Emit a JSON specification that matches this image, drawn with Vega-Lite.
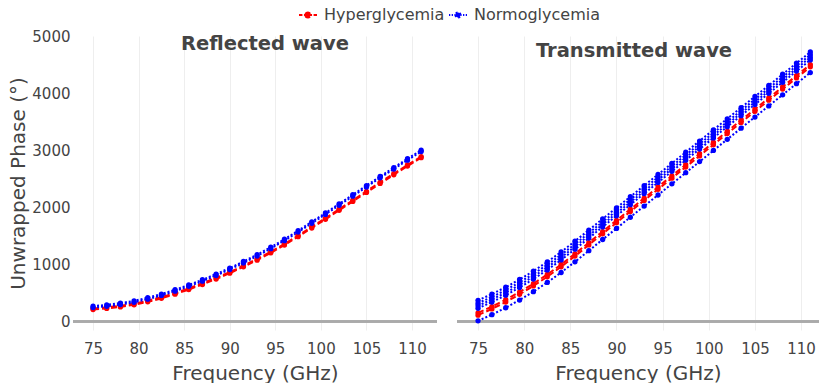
{
  "$schema": "https://vega.github.io/schema/vega-lite/v6.json",
  "background": "white",
  "padding": {"left": 8, "top": 5, "right": 0, "bottom": 0},
  "autosize": {"type": "pad"},
  "spacing": 20,
  "bounds": "flush",
  "config": {
    "font": "DejaVu Sans",
    "view": {"stroke": null},
    "axis": {
      "labelColor": "#444", "titleColor": "#444", "labelFontSize": 15, "titleFontSize": 20,
      "titleFontWeight": "normal", "gridColor": "#eeeeee", "gridWidth": 1, "domain": false, "ticks": false
    },
    "axisX": {"labelPadding": 11, "titlePadding": 7},
    "axisY": {"labelPadding": 3, "titlePadding": 3, "format": "d"}
  },
  "data": {"values": [
    {"w":"R","g":"Hyperglycemia","s":"rh1","f":75,"y":228},{"w":"R","g":"Hyperglycemia","s":"rh1","f":76.5,"y":247},{"w":"R","g":"Hyperglycemia","s":"rh1","f":78,"y":274},{"w":"R","g":"Hyperglycemia","s":"rh1","f":79.5,"y":311},{"w":"R","g":"Hyperglycemia","s":"rh1","f":81,"y":363},{"w":"R","g":"Hyperglycemia","s":"rh1","f":82.5,"y":425},{"w":"R","g":"Hyperglycemia","s":"rh1","f":84,"y":497},{"w":"R","g":"Hyperglycemia","s":"rh1","f":85.5,"y":579},{"w":"R","g":"Hyperglycemia","s":"rh1","f":87,"y":666},{"w":"R","g":"Hyperglycemia","s":"rh1","f":88.5,"y":763},{"w":"R","g":"Hyperglycemia","s":"rh1","f":90,"y":865},{"w":"R","g":"Hyperglycemia","s":"rh1","f":91.5,"y":977},{"w":"R","g":"Hyperglycemia","s":"rh1","f":93,"y":1094},{"w":"R","g":"Hyperglycemia","s":"rh1","f":94.5,"y":1221},{"w":"R","g":"Hyperglycemia","s":"rh1","f":96,"y":1358},{"w":"R","g":"Hyperglycemia","s":"rh1","f":97.5,"y":1505},{"w":"R","g":"Hyperglycemia","s":"rh1","f":99,"y":1657},{"w":"R","g":"Hyperglycemia","s":"rh1","f":100.5,"y":1809},{"w":"R","g":"Hyperglycemia","s":"rh1","f":102,"y":1966},{"w":"R","g":"Hyperglycemia","s":"rh1","f":103.5,"y":2123},{"w":"R","g":"Hyperglycemia","s":"rh1","f":105,"y":2280},{"w":"R","g":"Hyperglycemia","s":"rh1","f":106.5,"y":2437},{"w":"R","g":"Hyperglycemia","s":"rh1","f":108,"y":2589},{"w":"R","g":"Hyperglycemia","s":"rh1","f":109.5,"y":2741},{"w":"R","g":"Hyperglycemia","s":"rh1","f":111,"y":2888},
    {"w":"R","g":"Hyperglycemia","s":"rh2","f":75,"y":208},{"w":"R","g":"Hyperglycemia","s":"rh2","f":76.5,"y":227},{"w":"R","g":"Hyperglycemia","s":"rh2","f":78,"y":254},{"w":"R","g":"Hyperglycemia","s":"rh2","f":79.5,"y":291},{"w":"R","g":"Hyperglycemia","s":"rh2","f":81,"y":343},{"w":"R","g":"Hyperglycemia","s":"rh2","f":82.5,"y":405},{"w":"R","g":"Hyperglycemia","s":"rh2","f":84,"y":477},{"w":"R","g":"Hyperglycemia","s":"rh2","f":85.5,"y":559},{"w":"R","g":"Hyperglycemia","s":"rh2","f":87,"y":646},{"w":"R","g":"Hyperglycemia","s":"rh2","f":88.5,"y":743},{"w":"R","g":"Hyperglycemia","s":"rh2","f":90,"y":845},{"w":"R","g":"Hyperglycemia","s":"rh2","f":91.5,"y":957},{"w":"R","g":"Hyperglycemia","s":"rh2","f":93,"y":1074},{"w":"R","g":"Hyperglycemia","s":"rh2","f":94.5,"y":1201},{"w":"R","g":"Hyperglycemia","s":"rh2","f":96,"y":1338},{"w":"R","g":"Hyperglycemia","s":"rh2","f":97.5,"y":1485},{"w":"R","g":"Hyperglycemia","s":"rh2","f":99,"y":1637},{"w":"R","g":"Hyperglycemia","s":"rh2","f":100.5,"y":1789},{"w":"R","g":"Hyperglycemia","s":"rh2","f":102,"y":1946},{"w":"R","g":"Hyperglycemia","s":"rh2","f":103.5,"y":2103},{"w":"R","g":"Hyperglycemia","s":"rh2","f":105,"y":2260},{"w":"R","g":"Hyperglycemia","s":"rh2","f":106.5,"y":2417},{"w":"R","g":"Hyperglycemia","s":"rh2","f":108,"y":2569},{"w":"R","g":"Hyperglycemia","s":"rh2","f":109.5,"y":2721},{"w":"R","g":"Hyperglycemia","s":"rh2","f":111,"y":2868},
    {"w":"R","g":"Normoglycemia","s":"rn1","f":75,"y":268},{"w":"R","g":"Normoglycemia","s":"rn1","f":76.5,"y":290},{"w":"R","g":"Normoglycemia","s":"rn1","f":78,"y":320},{"w":"R","g":"Normoglycemia","s":"rn1","f":79.5,"y":360},{"w":"R","g":"Normoglycemia","s":"rn1","f":81,"y":415},{"w":"R","g":"Normoglycemia","s":"rn1","f":82.5,"y":480},{"w":"R","g":"Normoglycemia","s":"rn1","f":84,"y":555},{"w":"R","g":"Normoglycemia","s":"rn1","f":85.5,"y":640},{"w":"R","g":"Normoglycemia","s":"rn1","f":87,"y":730},{"w":"R","g":"Normoglycemia","s":"rn1","f":88.5,"y":830},{"w":"R","g":"Normoglycemia","s":"rn1","f":90,"y":935},{"w":"R","g":"Normoglycemia","s":"rn1","f":91.5,"y":1050},{"w":"R","g":"Normoglycemia","s":"rn1","f":93,"y":1170},{"w":"R","g":"Normoglycemia","s":"rn1","f":94.5,"y":1300},{"w":"R","g":"Normoglycemia","s":"rn1","f":96,"y":1440},{"w":"R","g":"Normoglycemia","s":"rn1","f":97.5,"y":1590},{"w":"R","g":"Normoglycemia","s":"rn1","f":99,"y":1745},{"w":"R","g":"Normoglycemia","s":"rn1","f":100.5,"y":1900},{"w":"R","g":"Normoglycemia","s":"rn1","f":102,"y":2060},{"w":"R","g":"Normoglycemia","s":"rn1","f":103.5,"y":2220},{"w":"R","g":"Normoglycemia","s":"rn1","f":105,"y":2380},{"w":"R","g":"Normoglycemia","s":"rn1","f":106.5,"y":2540},{"w":"R","g":"Normoglycemia","s":"rn1","f":108,"y":2695},{"w":"R","g":"Normoglycemia","s":"rn1","f":109.5,"y":2850},{"w":"R","g":"Normoglycemia","s":"rn1","f":111,"y":3000},
    {"w":"R","g":"Normoglycemia","s":"rn2","f":75,"y":243},{"w":"R","g":"Normoglycemia","s":"rn2","f":76.5,"y":265},{"w":"R","g":"Normoglycemia","s":"rn2","f":78,"y":295},{"w":"R","g":"Normoglycemia","s":"rn2","f":79.5,"y":335},{"w":"R","g":"Normoglycemia","s":"rn2","f":81,"y":390},{"w":"R","g":"Normoglycemia","s":"rn2","f":82.5,"y":455},{"w":"R","g":"Normoglycemia","s":"rn2","f":84,"y":530},{"w":"R","g":"Normoglycemia","s":"rn2","f":85.5,"y":615},{"w":"R","g":"Normoglycemia","s":"rn2","f":87,"y":705},{"w":"R","g":"Normoglycemia","s":"rn2","f":88.5,"y":805},{"w":"R","g":"Normoglycemia","s":"rn2","f":90,"y":910},{"w":"R","g":"Normoglycemia","s":"rn2","f":91.5,"y":1025},{"w":"R","g":"Normoglycemia","s":"rn2","f":93,"y":1145},{"w":"R","g":"Normoglycemia","s":"rn2","f":94.5,"y":1275},{"w":"R","g":"Normoglycemia","s":"rn2","f":96,"y":1415},{"w":"R","g":"Normoglycemia","s":"rn2","f":97.5,"y":1565},{"w":"R","g":"Normoglycemia","s":"rn2","f":99,"y":1720},{"w":"R","g":"Normoglycemia","s":"rn2","f":100.5,"y":1875},{"w":"R","g":"Normoglycemia","s":"rn2","f":102,"y":2035},{"w":"R","g":"Normoglycemia","s":"rn2","f":103.5,"y":2195},{"w":"R","g":"Normoglycemia","s":"rn2","f":105,"y":2355},{"w":"R","g":"Normoglycemia","s":"rn2","f":106.5,"y":2515},{"w":"R","g":"Normoglycemia","s":"rn2","f":108,"y":2670},{"w":"R","g":"Normoglycemia","s":"rn2","f":109.5,"y":2825},{"w":"R","g":"Normoglycemia","s":"rn2","f":111,"y":2975},
    {"w":"T","g":"Hyperglycemia","s":"th1","f":75,"y":150},{"w":"T","g":"Hyperglycemia","s":"th1","f":76.5,"y":259},{"w":"T","g":"Hyperglycemia","s":"th1","f":78,"y":380},{"w":"T","g":"Hyperglycemia","s":"th1","f":79.5,"y":515},{"w":"T","g":"Hyperglycemia","s":"th1","f":81,"y":662},{"w":"T","g":"Hyperglycemia","s":"th1","f":82.5,"y":823},{"w":"T","g":"Hyperglycemia","s":"th1","f":84,"y":997},{"w":"T","g":"Hyperglycemia","s":"th1","f":85.5,"y":1185},{"w":"T","g":"Hyperglycemia","s":"th1","f":87,"y":1380},{"w":"T","g":"Hyperglycemia","s":"th1","f":88.5,"y":1575},{"w":"T","g":"Hyperglycemia","s":"th1","f":90,"y":1770},{"w":"T","g":"Hyperglycemia","s":"th1","f":91.5,"y":1965},{"w":"T","g":"Hyperglycemia","s":"th1","f":93,"y":2160},{"w":"T","g":"Hyperglycemia","s":"th1","f":94.5,"y":2355},{"w":"T","g":"Hyperglycemia","s":"th1","f":96,"y":2550},{"w":"T","g":"Hyperglycemia","s":"th1","f":97.5,"y":2745},{"w":"T","g":"Hyperglycemia","s":"th1","f":99,"y":2940},{"w":"T","g":"Hyperglycemia","s":"th1","f":100.5,"y":3135},{"w":"T","g":"Hyperglycemia","s":"th1","f":102,"y":3330},{"w":"T","g":"Hyperglycemia","s":"th1","f":103.5,"y":3525},{"w":"T","g":"Hyperglycemia","s":"th1","f":105,"y":3720},{"w":"T","g":"Hyperglycemia","s":"th1","f":106.5,"y":3915},{"w":"T","g":"Hyperglycemia","s":"th1","f":108,"y":4110},{"w":"T","g":"Hyperglycemia","s":"th1","f":109.5,"y":4305},{"w":"T","g":"Hyperglycemia","s":"th1","f":111,"y":4500},
    {"w":"T","g":"Hyperglycemia","s":"th2","f":75,"y":110},{"w":"T","g":"Hyperglycemia","s":"th2","f":76.5,"y":219},{"w":"T","g":"Hyperglycemia","s":"th2","f":78,"y":340},{"w":"T","g":"Hyperglycemia","s":"th2","f":79.5,"y":475},{"w":"T","g":"Hyperglycemia","s":"th2","f":81,"y":622},{"w":"T","g":"Hyperglycemia","s":"th2","f":82.5,"y":783},{"w":"T","g":"Hyperglycemia","s":"th2","f":84,"y":957},{"w":"T","g":"Hyperglycemia","s":"th2","f":85.5,"y":1145},{"w":"T","g":"Hyperglycemia","s":"th2","f":87,"y":1340},{"w":"T","g":"Hyperglycemia","s":"th2","f":88.5,"y":1535},{"w":"T","g":"Hyperglycemia","s":"th2","f":90,"y":1730},{"w":"T","g":"Hyperglycemia","s":"th2","f":91.5,"y":1925},{"w":"T","g":"Hyperglycemia","s":"th2","f":93,"y":2120},{"w":"T","g":"Hyperglycemia","s":"th2","f":94.5,"y":2315},{"w":"T","g":"Hyperglycemia","s":"th2","f":96,"y":2510},{"w":"T","g":"Hyperglycemia","s":"th2","f":97.5,"y":2705},{"w":"T","g":"Hyperglycemia","s":"th2","f":99,"y":2900},{"w":"T","g":"Hyperglycemia","s":"th2","f":100.5,"y":3095},{"w":"T","g":"Hyperglycemia","s":"th2","f":102,"y":3290},{"w":"T","g":"Hyperglycemia","s":"th2","f":103.5,"y":3485},{"w":"T","g":"Hyperglycemia","s":"th2","f":105,"y":3680},{"w":"T","g":"Hyperglycemia","s":"th2","f":106.5,"y":3875},{"w":"T","g":"Hyperglycemia","s":"th2","f":108,"y":4070},{"w":"T","g":"Hyperglycemia","s":"th2","f":109.5,"y":4265},{"w":"T","g":"Hyperglycemia","s":"th2","f":111,"y":4460},
    {"w":"T","g":"Normoglycemia","s":"tn1","f":75,"y":230},{"w":"T","g":"Normoglycemia","s":"tn1","f":76.5,"y":339},{"w":"T","g":"Normoglycemia","s":"tn1","f":78,"y":460},{"w":"T","g":"Normoglycemia","s":"tn1","f":79.5,"y":595},{"w":"T","g":"Normoglycemia","s":"tn1","f":81,"y":742},{"w":"T","g":"Normoglycemia","s":"tn1","f":82.5,"y":903},{"w":"T","g":"Normoglycemia","s":"tn1","f":84,"y":1077},{"w":"T","g":"Normoglycemia","s":"tn1","f":85.5,"y":1265},{"w":"T","g":"Normoglycemia","s":"tn1","f":87,"y":1460},{"w":"T","g":"Normoglycemia","s":"tn1","f":88.5,"y":1655},{"w":"T","g":"Normoglycemia","s":"tn1","f":90,"y":1850},{"w":"T","g":"Normoglycemia","s":"tn1","f":91.5,"y":2045},{"w":"T","g":"Normoglycemia","s":"tn1","f":93,"y":2240},{"w":"T","g":"Normoglycemia","s":"tn1","f":94.5,"y":2435},{"w":"T","g":"Normoglycemia","s":"tn1","f":96,"y":2630},{"w":"T","g":"Normoglycemia","s":"tn1","f":97.5,"y":2825},{"w":"T","g":"Normoglycemia","s":"tn1","f":99,"y":3020},{"w":"T","g":"Normoglycemia","s":"tn1","f":100.5,"y":3215},{"w":"T","g":"Normoglycemia","s":"tn1","f":102,"y":3410},{"w":"T","g":"Normoglycemia","s":"tn1","f":103.5,"y":3605},{"w":"T","g":"Normoglycemia","s":"tn1","f":105,"y":3800},{"w":"T","g":"Normoglycemia","s":"tn1","f":106.5,"y":3995},{"w":"T","g":"Normoglycemia","s":"tn1","f":108,"y":4190},{"w":"T","g":"Normoglycemia","s":"tn1","f":109.5,"y":4385},{"w":"T","g":"Normoglycemia","s":"tn1","f":111,"y":4580},
    {"w":"T","g":"Normoglycemia","s":"tn2","f":75,"y":275},{"w":"T","g":"Normoglycemia","s":"tn2","f":76.5,"y":384},{"w":"T","g":"Normoglycemia","s":"tn2","f":78,"y":505},{"w":"T","g":"Normoglycemia","s":"tn2","f":79.5,"y":640},{"w":"T","g":"Normoglycemia","s":"tn2","f":81,"y":787},{"w":"T","g":"Normoglycemia","s":"tn2","f":82.5,"y":948},{"w":"T","g":"Normoglycemia","s":"tn2","f":84,"y":1122},{"w":"T","g":"Normoglycemia","s":"tn2","f":85.5,"y":1310},{"w":"T","g":"Normoglycemia","s":"tn2","f":87,"y":1505},{"w":"T","g":"Normoglycemia","s":"tn2","f":88.5,"y":1700},{"w":"T","g":"Normoglycemia","s":"tn2","f":90,"y":1895},{"w":"T","g":"Normoglycemia","s":"tn2","f":91.5,"y":2090},{"w":"T","g":"Normoglycemia","s":"tn2","f":93,"y":2285},{"w":"T","g":"Normoglycemia","s":"tn2","f":94.5,"y":2480},{"w":"T","g":"Normoglycemia","s":"tn2","f":96,"y":2675},{"w":"T","g":"Normoglycemia","s":"tn2","f":97.5,"y":2870},{"w":"T","g":"Normoglycemia","s":"tn2","f":99,"y":3065},{"w":"T","g":"Normoglycemia","s":"tn2","f":100.5,"y":3260},{"w":"T","g":"Normoglycemia","s":"tn2","f":102,"y":3455},{"w":"T","g":"Normoglycemia","s":"tn2","f":103.5,"y":3650},{"w":"T","g":"Normoglycemia","s":"tn2","f":105,"y":3845},{"w":"T","g":"Normoglycemia","s":"tn2","f":106.5,"y":4040},{"w":"T","g":"Normoglycemia","s":"tn2","f":108,"y":4235},{"w":"T","g":"Normoglycemia","s":"tn2","f":109.5,"y":4430},{"w":"T","g":"Normoglycemia","s":"tn2","f":111,"y":4625},
    {"w":"T","g":"Normoglycemia","s":"tn3","f":75,"y":320},{"w":"T","g":"Normoglycemia","s":"tn3","f":76.5,"y":429},{"w":"T","g":"Normoglycemia","s":"tn3","f":78,"y":550},{"w":"T","g":"Normoglycemia","s":"tn3","f":79.5,"y":685},{"w":"T","g":"Normoglycemia","s":"tn3","f":81,"y":832},{"w":"T","g":"Normoglycemia","s":"tn3","f":82.5,"y":993},{"w":"T","g":"Normoglycemia","s":"tn3","f":84,"y":1167},{"w":"T","g":"Normoglycemia","s":"tn3","f":85.5,"y":1355},{"w":"T","g":"Normoglycemia","s":"tn3","f":87,"y":1550},{"w":"T","g":"Normoglycemia","s":"tn3","f":88.5,"y":1745},{"w":"T","g":"Normoglycemia","s":"tn3","f":90,"y":1940},{"w":"T","g":"Normoglycemia","s":"tn3","f":91.5,"y":2135},{"w":"T","g":"Normoglycemia","s":"tn3","f":93,"y":2330},{"w":"T","g":"Normoglycemia","s":"tn3","f":94.5,"y":2525},{"w":"T","g":"Normoglycemia","s":"tn3","f":96,"y":2720},{"w":"T","g":"Normoglycemia","s":"tn3","f":97.5,"y":2915},{"w":"T","g":"Normoglycemia","s":"tn3","f":99,"y":3110},{"w":"T","g":"Normoglycemia","s":"tn3","f":100.5,"y":3305},{"w":"T","g":"Normoglycemia","s":"tn3","f":102,"y":3500},{"w":"T","g":"Normoglycemia","s":"tn3","f":103.5,"y":3695},{"w":"T","g":"Normoglycemia","s":"tn3","f":105,"y":3890},{"w":"T","g":"Normoglycemia","s":"tn3","f":106.5,"y":4085},{"w":"T","g":"Normoglycemia","s":"tn3","f":108,"y":4280},{"w":"T","g":"Normoglycemia","s":"tn3","f":109.5,"y":4475},{"w":"T","g":"Normoglycemia","s":"tn3","f":111,"y":4670},
    {"w":"T","g":"Normoglycemia","s":"tn4","f":75,"y":370},{"w":"T","g":"Normoglycemia","s":"tn4","f":76.5,"y":479},{"w":"T","g":"Normoglycemia","s":"tn4","f":78,"y":600},{"w":"T","g":"Normoglycemia","s":"tn4","f":79.5,"y":735},{"w":"T","g":"Normoglycemia","s":"tn4","f":81,"y":882},{"w":"T","g":"Normoglycemia","s":"tn4","f":82.5,"y":1043},{"w":"T","g":"Normoglycemia","s":"tn4","f":84,"y":1217},{"w":"T","g":"Normoglycemia","s":"tn4","f":85.5,"y":1405},{"w":"T","g":"Normoglycemia","s":"tn4","f":87,"y":1600},{"w":"T","g":"Normoglycemia","s":"tn4","f":88.5,"y":1795},{"w":"T","g":"Normoglycemia","s":"tn4","f":90,"y":1990},{"w":"T","g":"Normoglycemia","s":"tn4","f":91.5,"y":2185},{"w":"T","g":"Normoglycemia","s":"tn4","f":93,"y":2380},{"w":"T","g":"Normoglycemia","s":"tn4","f":94.5,"y":2575},{"w":"T","g":"Normoglycemia","s":"tn4","f":96,"y":2770},{"w":"T","g":"Normoglycemia","s":"tn4","f":97.5,"y":2965},{"w":"T","g":"Normoglycemia","s":"tn4","f":99,"y":3160},{"w":"T","g":"Normoglycemia","s":"tn4","f":100.5,"y":3355},{"w":"T","g":"Normoglycemia","s":"tn4","f":102,"y":3550},{"w":"T","g":"Normoglycemia","s":"tn4","f":103.5,"y":3745},{"w":"T","g":"Normoglycemia","s":"tn4","f":105,"y":3940},{"w":"T","g":"Normoglycemia","s":"tn4","f":106.5,"y":4135},{"w":"T","g":"Normoglycemia","s":"tn4","f":108,"y":4330},{"w":"T","g":"Normoglycemia","s":"tn4","f":109.5,"y":4525},{"w":"T","g":"Normoglycemia","s":"tn4","f":111,"y":4720},
    {"w":"T","g":"Normoglycemia","s":"tn5","f":75,"y":10},{"w":"T","g":"Normoglycemia","s":"tn5","f":76.5,"y":119},{"w":"T","g":"Normoglycemia","s":"tn5","f":78,"y":240},{"w":"T","g":"Normoglycemia","s":"tn5","f":79.5,"y":375},{"w":"T","g":"Normoglycemia","s":"tn5","f":81,"y":522},{"w":"T","g":"Normoglycemia","s":"tn5","f":82.5,"y":683},{"w":"T","g":"Normoglycemia","s":"tn5","f":84,"y":857},{"w":"T","g":"Normoglycemia","s":"tn5","f":85.5,"y":1045},{"w":"T","g":"Normoglycemia","s":"tn5","f":87,"y":1240},{"w":"T","g":"Normoglycemia","s":"tn5","f":88.5,"y":1435},{"w":"T","g":"Normoglycemia","s":"tn5","f":90,"y":1630},{"w":"T","g":"Normoglycemia","s":"tn5","f":91.5,"y":1825},{"w":"T","g":"Normoglycemia","s":"tn5","f":93,"y":2020},{"w":"T","g":"Normoglycemia","s":"tn5","f":94.5,"y":2215},{"w":"T","g":"Normoglycemia","s":"tn5","f":96,"y":2410},{"w":"T","g":"Normoglycemia","s":"tn5","f":97.5,"y":2605},{"w":"T","g":"Normoglycemia","s":"tn5","f":99,"y":2800},{"w":"T","g":"Normoglycemia","s":"tn5","f":100.5,"y":2995},{"w":"T","g":"Normoglycemia","s":"tn5","f":102,"y":3190},{"w":"T","g":"Normoglycemia","s":"tn5","f":103.5,"y":3385},{"w":"T","g":"Normoglycemia","s":"tn5","f":105,"y":3580},{"w":"T","g":"Normoglycemia","s":"tn5","f":106.5,"y":3775},{"w":"T","g":"Normoglycemia","s":"tn5","f":108,"y":3970},{"w":"T","g":"Normoglycemia","s":"tn5","f":109.5,"y":4165},{"w":"T","g":"Normoglycemia","s":"tn5","f":111,"y":4360}
  ]},
  "hconcat": [
    {
      "width": 364,
      "height": 294,
      "title": {"text": "Reflected wave", "fontSize": 19.5, "fontWeight": "bold", "color": "#444", "frame": "group", "baseline": "alphabetic", "offset": -15, "dy": 25, "dx": 10},
      "transform": [{"filter": "datum.w === 'R'"}],
      "layer": [
        {"mark": {"type": "rule", "color": "#aaa", "strokeWidth": 1.5}, "encoding": {"y": {"datum": 0}}},
        {
          "mark": {"type": "line", "strokeWidth": 2},
          "encoding": {
            "x": {"field": "f", "type": "quantitative", "title": "Frequency (GHz)", "scale": {"domain": [72.8, 112.74], "nice": false, "zero": false}, "axis": {"values": [75, 80, 85, 90, 95, 100, 105, 110]}},
            "y": {"field": "y", "type": "quantitative", "title": "Unwrapped Phase (°)", "scale": {"domain": [-150, 5000], "nice": false}, "axis": {"values": [0, 1000, 2000, 3000, 4000, 5000]}},
            "color": {"field": "g", "type": "nominal", "scale": {"domain": ["Hyperglycemia", "Normoglycemia"], "range": ["#ff0000", "#0000ff"]},
              "legend": {"orient": "none", "legendX": 225, "legendY": -31, "direction": "horizontal", "title": null, "symbolSize": 324, "symbolStrokeWidth": 2, "labelFontSize": 16, "labelColor": "#444", "labelOffset": 6, "columnPadding": 0,
                "encode": {"symbols": {"update": {
                  "shape": {"signal": "datum.value === 'Hyperglycemia' ? 'M-1,0H-0.62M-0.45,0H-0.1M0.1,0H0.45M0.62,0H1M-0.28,0A0.28,0.28,0,1,0,0.28,0A0.28,0.28,0,1,0,-0.28,0Z' : 'M-1,0H-0.86M-0.7,0H-0.56M-0.4,0H-0.26M0.26,0H0.4M0.56,0H0.7M0.86,0H1M-0.28,0A0.28,0.28,0,1,0,0.28,0A0.28,0.28,0,1,0,-0.28,0Z'"},
                  "fill": {"scale": "color", "field": "value"},
                  "stroke": {"scale": "color", "field": "value"},
                  "strokeDash": {"value": []}}}}}},
            "strokeDash": {"field": "g", "type": "nominal", "scale": {"domain": ["Hyperglycemia", "Normoglycemia"], "range": [[6, 3], [2, 2]]}, "legend": null},
            "detail": {"field": "s"}
          }
        },
        {
          "mark": {"type": "point", "filled": true, "size": 28, "opacity": 1},
          "encoding": {
            "x": {"field": "f", "type": "quantitative"},
            "y": {"field": "y", "type": "quantitative"},
            "color": {"field": "g", "type": "nominal"},
            "detail": {"field": "s"}
          }
        }
      ]
    },
    {
      "width": 362,
      "height": 294,
      "title": {"text": "Transmitted wave", "fontSize": 19.5, "fontWeight": "bold", "color": "#444", "frame": "group", "baseline": "alphabetic", "offset": -15, "dy": 25, "dx": -4},
      "transform": [{"filter": "datum.w === 'T'"}],
      "layer": [
        {"mark": {"type": "rule", "color": "#aaa", "strokeWidth": 1.5}, "encoding": {"y": {"datum": 0}}},
        {
          "mark": {"type": "line", "strokeWidth": 2},
          "encoding": {
            "x": {"field": "f", "type": "quantitative", "title": "Frequency (GHz)", "scale": {"domain": [72.72, 111.94], "nice": false, "zero": false}, "axis": {"values": [75, 80, 85, 90, 95, 100, 105, 110]}},
            "y": {"field": "y", "type": "quantitative", "title": null, "scale": {"domain": [-150, 5000], "nice": false}, "axis": {"values": [0, 1000, 2000, 3000, 4000, 5000], "labels": false, "minExtent": 0, "maxExtent": 0}},
            "color": {"field": "g", "type": "nominal"},
            "strokeDash": {"field": "g", "type": "nominal", "scale": {"domain": ["Hyperglycemia", "Normoglycemia"], "range": [[6, 3], [2, 2]]}, "legend": null},
            "detail": {"field": "s"}
          }
        },
        {
          "mark": {"type": "point", "filled": true, "size": 28, "opacity": 1},
          "encoding": {
            "x": {"field": "f", "type": "quantitative"},
            "y": {"field": "y", "type": "quantitative"},
            "color": {"field": "g", "type": "nominal"},
            "detail": {"field": "s"}
          }
        }
      ]
    }
  ]
}
